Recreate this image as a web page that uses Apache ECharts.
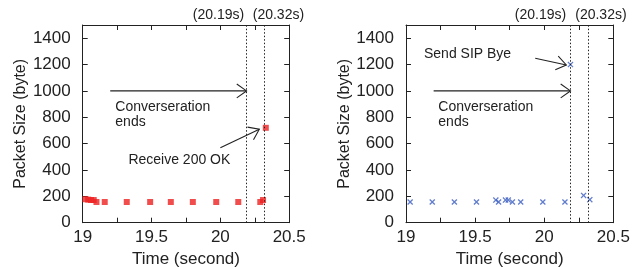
<!DOCTYPE html>
<html>
<head>
<meta charset="utf-8">
<script src="https://cdn.jsdelivr.net/npm/echarts@6/dist/echarts.min.js"></script>
<style>
    html, body { margin: 0; padding: 0; background: #fff; }
    #chart { width: 634px; height: 267px; }
</style>
</head>
<body>
<div id="chart"></div>
<script>
// data
const xTicks = [19, 19.25, 19.5, 19.75, 20, 20.25, 20.5];
const xLabels = [19, 19.5, 20, 20.5];
const yTicks = [0, 200, 400, 600, 800, 1000, 1200, 1400];
const markTimes = [20.19, 20.32];
const markNames = ["(20.19s)", "(20.32s)"];

// left plot (red squares)
const leftTimes = [19.02, 19.04, 19.06, 19.08, 19.10, 19.16, 19.32, 19.49, 19.64, 19.80, 19.97, 20.13, 20.29, 20.31, 20.33];
const leftSizes = [178, 175, 172, 172, 157, 157, 157, 157, 157, 157, 157, 157, 157, 172, 720];

// right plot (blue crosses)
const rightTimes = [19.03, 19.19, 19.35, 19.51, 19.65, 19.67, 19.72, 19.74, 19.77, 19.83, 19.99, 20.15, 20.19, 20.285, 20.33];
const rightSizes = [157, 157, 157, 157, 172, 157, 172, 172, 157, 157, 157, 157, 1200, 207, 175];

// arrows: [fromX, fromY, toX, toY]
const leftArrows = [[19.2, 1000, 20.19, 1000], [20.0, 569, 20.283, 709]];
const rightArrows = [[19.2, 1000, 20.19, 1000], [19.935, 1248, 20.16, 1197]];

// notes: [x, y] + text
const leftNotes = [[19.237, 823], [19.332, 471]];
const leftNoteTexts = ["Converseration\nends", "Receive 200 OK"];
const rightNotes = [[19.234, 823], [19.13, 1281]];
const rightNoteTexts = ["Converseration\nends", "Send SIP Bye"];

const colorRed = "#ee2020";
const colorBlue = "#3a5cc0";
const colorInk = "#222";
const fontFamily = "Liberation Sans, Arial, sans-serif";
const crossPath = "path://M0,1.5L1.5,0L5,3.5L8.5,0L10,1.5L6.5,5L10,8.5L8.5,10L5,6.5L1.5,10L0,8.5L3.5,5Z";

function zip(a, b) {
    return a.map((v, i) => [v, b[i]]);
}

function xAxisPair(gridIndex) {
    const base = {
        gridIndex: gridIndex,
        type: "value",
        min: 19,
        max: 20.5,
        splitLine: { show: false },
        axisLine: { onZero: false, lineStyle: { color: colorInk, width: 1 } },
        axisTick: { show: true, inside: true, length: 5, customValues: xTicks, lineStyle: { color: colorInk } }
    };
    return [
        Object.assign({}, base, {
            position: "bottom",
            axisLabel: { customValues: xLabels, formatter: v => String(v), fontSize: 17, color: colorInk, margin: 6, fontFamily: fontFamily },
            name: "Time (second)",
            nameLocation: "middle",
            nameGap: 26,
            nameTextStyle: { fontSize: 17, color: colorInk, fontFamily: fontFamily }
        }),
        Object.assign({}, base, {
            position: "top",
            axisLabel: { show: false }
        })
    ];
}

function yAxisPair(gridIndex) {
    const base = {
        gridIndex: gridIndex,
        type: "value",
        min: 0,
        max: 1500,
        splitLine: { show: false },
        axisLine: { onZero: false, show: true, lineStyle: { color: colorInk, width: 1 } },
        axisTick: { show: true, inside: true, length: 5, customValues: yTicks, lineStyle: { color: colorInk } }
    };
    return [
        Object.assign({}, base, {
            position: "left",
            axisLabel: { customValues: yTicks, formatter: v => String(v), fontSize: 17, color: colorInk, margin: 12, fontFamily: fontFamily },
            name: "Packet Size (byte)",
            nameLocation: "middle",
            nameGap: 52,
            nameTextStyle: { fontSize: 16, color: colorInk, fontFamily: fontFamily }
        }),
        Object.assign({}, base, {
            position: "right",
            axisLabel: { show: false }
        })
    ];
}

function markLines(offsets) {
    return {
        silent: true,
        symbol: "none",
        lineStyle: { color: colorInk, type: [1.5, 2], width: 1 },
        data: markTimes.map((t, i) => ({
            xAxis: t,
            label: {
                show: true,
                position: "end",
                formatter: markNames[i],
                color: colorInk,
                fontSize: 14,
                fontFamily: fontFamily,
                distance: 3,
                offset: [offsets[i], 0]
            }
        }))
    };
}

function arrowSeries(data, xi, yi) {
    return {
        type: "custom",
        xAxisIndex: xi,
        yAxisIndex: yi,
        silent: true,
        clip: false,
        data: data,
        encode: { x: [0, 2], y: [1, 3] },
        renderItem: (params, api) => {
            const p1 = api.coord([api.value(0), api.value(1)]);
            const p2 = api.coord([api.value(2), api.value(3)]);
            const a = Math.atan2(p2[1] - p1[1], p2[0] - p1[0]);
            const len = 12;
            const th = 0.62;
            const h1 = [p2[0] - len * Math.cos(a - th), p2[1] - len * Math.sin(a - th)];
            const h2 = [p2[0] - len * Math.cos(a + th), p2[1] - len * Math.sin(a + th)];
            const style = { stroke: colorInk, lineWidth: 1.1, fill: null };
            return {
                type: "group",
                children: [
                    { type: "line", shape: { x1: p1[0], y1: p1[1], x2: p2[0], y2: p2[1] }, style: style },
                    { type: "polyline", shape: { points: [h1, p2, h2] }, style: style }
                ]
            };
        }
    };
}

function noteSeries(data, texts, xi, yi) {
    return {
        type: "custom",
        xAxisIndex: xi,
        yAxisIndex: yi,
        silent: true,
        clip: false,
        data: data,
        renderItem: (params, api) => {
            const p = api.coord([api.value(0), api.value(1)]);
            return {
                type: "text",
                style: {
                    x: p[0],
                    y: p[1],
                    text: texts[params.dataIndex],
                    fill: colorInk,
                    font: "14px " + fontFamily,
                    lineHeight: 15,
                    align: "left",
                    verticalAlign: "middle"
                }
            };
        }
    };
}

const chart = echarts.init(document.getElementById("chart"), null, { renderer: "canvas" });

chart.setOption({
    animation: false,
    backgroundColor: "#fff",
    textStyle: { fontFamily: fontFamily },
    grid: [
        { left: 82.7, top: 25, width: 206.5, height: 197.7, outerBoundsMode: "none", containLabel: false },
        { left: 406, top: 25, width: 207.3, height: 197.7, outerBoundsMode: "none", containLabel: false }
    ],
    xAxis: [].concat(xAxisPair(0), xAxisPair(1)),
    yAxis: [].concat(yAxisPair(0), yAxisPair(1)),
    series: [
        {
            type: "scatter",
            xAxisIndex: 0,
            yAxisIndex: 0,
            symbol: "rect",
            symbolSize: 6,
            itemStyle: { color: colorRed },
            data: zip(leftTimes, leftSizes),
            markLine: markLines([-28, 14])
        },
        {
            type: "scatter",
            xAxisIndex: 2,
            yAxisIndex: 2,
            symbol: crossPath,
            symbolSize: 6,
            itemStyle: { color: colorBlue },
            data: zip(rightTimes, rightSizes),
            markLine: markLines([-30, 12.5])
        },
        arrowSeries(leftArrows, 0, 0),
        arrowSeries(rightArrows, 2, 2),
        noteSeries(leftNotes, leftNoteTexts, 0, 0),
        noteSeries(rightNotes, rightNoteTexts, 2, 2)
    ]
});
</script>
</body>
</html>
